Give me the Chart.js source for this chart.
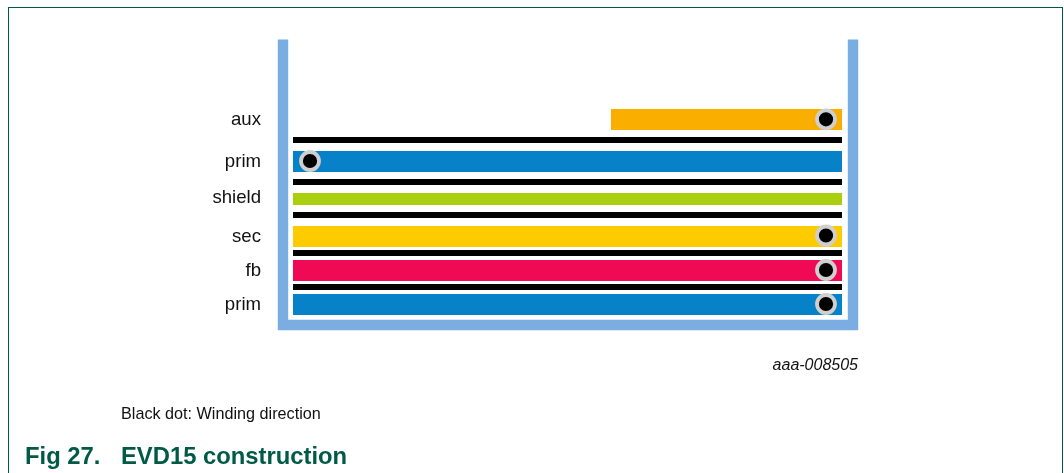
<!DOCTYPE html>
<html>
<head>
<meta charset="utf-8">
<style>
html,body{margin:0;padding:0;background:#fff;width:1064px;height:473px;overflow:hidden;font-family:"Liberation Sans",Arial,sans-serif}
#wrap{position:relative;width:1064px;height:473px}
canvas{position:absolute;left:0;top:0}
#frame{position:absolute;left:8px;top:7px;width:1055px;height:480px;border:1px solid #005a46;box-sizing:border-box}
.t{position:absolute;white-space:nowrap;line-height:1}
</style>
<script src="https://cdn.jsdelivr.net/npm/chart.js@4/dist/chart.umd.min.js"></script>
</head>
<body>
<div id="wrap">
<div id="frame"></div>
<canvas id="c" width="1064" height="473"></canvas>
<div class="t" style="left:121px;top:405px;font-size:16.2px;color:#111">Black dot: Winding direction</div>
<div class="t" style="left:25px;top:444px;font-size:23.8px;font-weight:bold;color:#005a46">Fig 27.</div>
<div class="t" style="left:121px;top:444px;font-size:23.8px;font-weight:bold;color:#005a46">EVD15 construction</div>
<div class="t" style="right:206px;top:357px;font-size:16px;font-style:italic;color:#111">aaa-008505</div>
</div>
<script>
// Layers, bottom of the bobbin is y = 0
const layerLabels = ['aux', 'prim', 'shield', 'sec', 'fb', 'prim'];
const labelCentres = [212, 170, 134, 95, 61, 27];
const layerCentres = [211.5, 169.5, 132, 94.5, 60.5, 26.5];
const layerStart = [333, 15, 15, 15, 15, 15];
const layerEnd = [564, 564, 564, 564, 564, 564];
const layerThickness = [21, 21, 12, 21, 21, 21];
const layerColors = ['#f9ae00', '#0781c8', '#a9cf0f', '#fccc00', '#f00a55', '#0781c8'];
// Insulation layers
const insulationCentres = [191, 149, 116, 78, 44];
// Winding direction dots
const dotX = [548, 32, 548, 548, 548];
const dotY = [211.7, 170, 95.5, 61, 27];
// Bobbin outline
const bobbinX = [5, 5, 575, 575];
const bobbinY = [291.6, 6, 6, 291.6];

const datasets = [];
datasets.push({
  data: bobbinX.map((x, i) => ({x, y: bobbinY[i]})),
  borderColor: '#7aaee2', borderWidth: 10.4, pointRadius: 0,
  borderJoinStyle: 'miter', borderCapStyle: 'butt', tension: 0, clip: false, order: 5
});
insulationCentres.forEach(y => datasets.push({
  data: [{x: layerStart[1], y}, {x: layerEnd[1], y}],
  borderColor: '#000', borderWidth: 6, pointRadius: 0, borderCapStyle: 'butt', clip: false, order: 4
}));
layerCentres.forEach((y, i) => datasets.push({
  data: [{x: layerStart[i], y}, {x: layerEnd[i], y}],
  borderColor: layerColors[i], borderWidth: layerThickness[i], pointRadius: 0, borderCapStyle: 'butt', clip: false, order: 3
}));
datasets.push({
  data: dotX.map((x, i) => ({x, y: dotY[i]})),
  showLine: false, pointRadius: 9, pointBackgroundColor: '#000', pointBorderColor: '#cfcfcf', pointBorderWidth: 3.8,
  clip: false, order: 1
});

new Chart(document.getElementById('c'), {
  type: 'line',
  data: {datasets},
  options: {
    responsive: false, animation: false, events: [],
    layout: {padding: {left: 0, right: 206, top: 40, bottom: 142}},
    plugins: {legend: {display: false}, tooltip: {enabled: false}, title: {display: false}},
    scales: {
      x: {type: 'linear', min: 0, max: 580, display: false},
      y: {
        type: 'linear', min: 0, max: 291,
        border: {display: false},
        grid: {display: false, drawTicks: false},
        afterFit: s => { s.width = 278; },
        afterBuildTicks: s => { s.ticks = labelCentres.map(value => ({value})); },
        ticks: {
          autoSkip: false, padding: 17, color: '#111', labelOffset: 1,
          font: {family: '"Liberation Sans", Arial, sans-serif', size: 18.6},
          callback: v => layerLabels[labelCentres.indexOf(v)]
        }
      }
    }
  }
});
</script>
</body>
</html>
